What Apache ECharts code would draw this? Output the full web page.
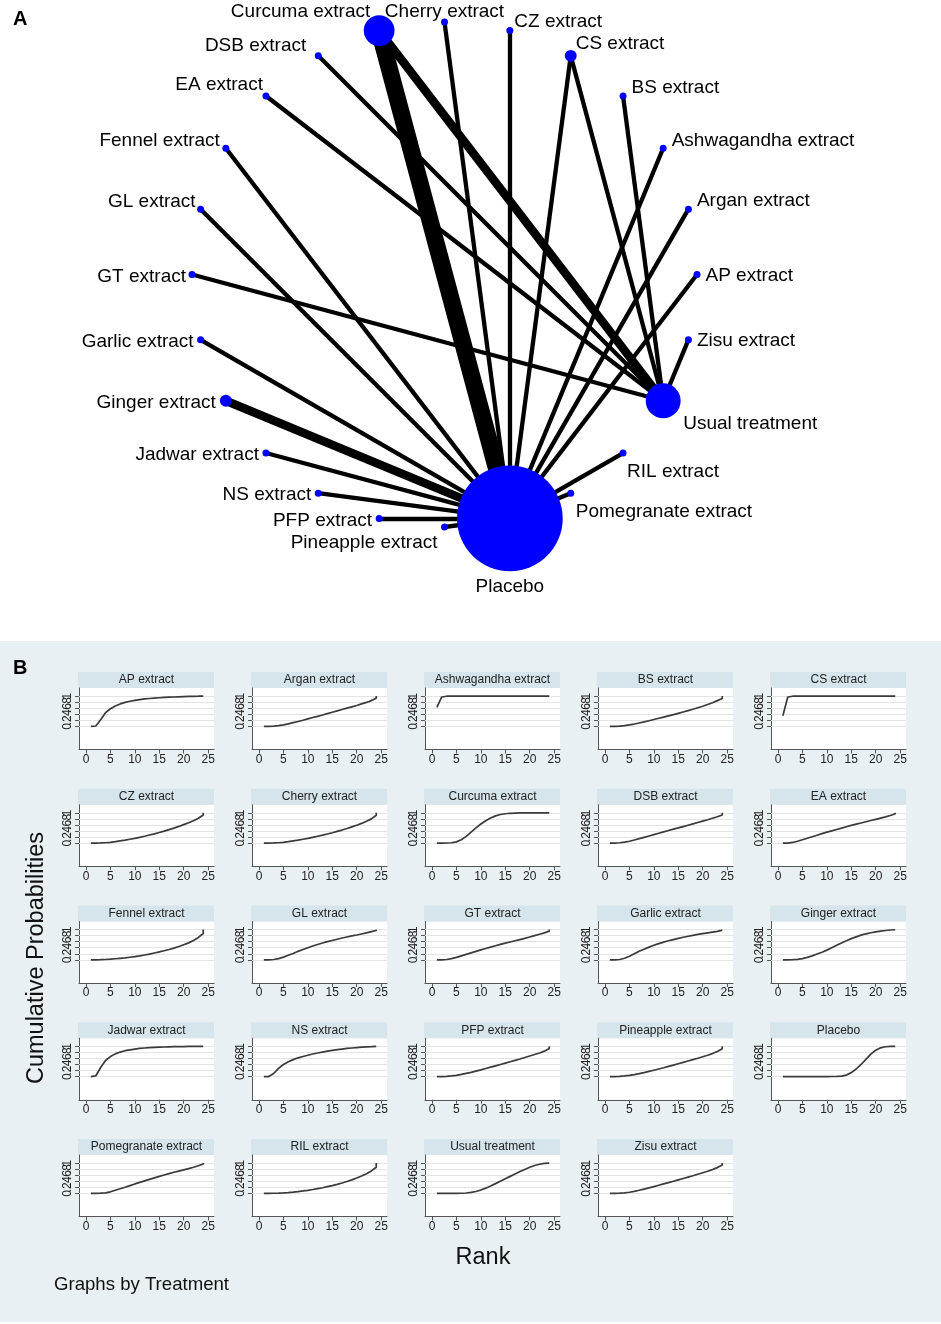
<!DOCTYPE html>
<html><head><meta charset="utf-8">
<script src="https://cdn.jsdelivr.net/npm/echarts@6/dist/echarts.min.js"></script>
<style>html,body{margin:0;padding:0;background:#fff}#c{width:941px;height:1324px}</style>
</head><body><div id="c"></div>
<script>
// ---------- DATA ----------
const treatments = ['AP extract','Argan extract','Ashwagandha extract','BS extract','CS extract','CZ extract',
  'Cherry extract','Curcuma extract','DSB extract','EA extract','Fennel extract','GL extract','GT extract',
  'Garlic extract','Ginger extract','Jadwar extract','NS extract','PFP extract','Pineapple extract','Placebo',
  'Pomegranate extract','RIL extract','Usual treatment','Zisu extract'];
const nodeWeight = [1,1,1,1,1.7,1,1,4.4,1,1,1,1,1,1,1.7,1,1,1,1,15.1,1,1,5,1];
// comparisons: [treatment A, treatment B, number of studies]
const edgeFrom = ['Curcuma extract','Curcuma extract','Cherry extract','CZ extract','CS extract','CS extract',
  'BS extract','Ashwagandha extract','Argan extract','AP extract','Zisu extract','RIL extract','Pomegranate extract',
  'DSB extract','EA extract','Fennel extract','GL extract','GT extract','Garlic extract','Ginger extract',
  'Jadwar extract','NS extract','PFP extract','Pineapple extract'];
const edgeTo = ['Placebo','Usual treatment','Placebo','Placebo','Placebo','Usual treatment',
  'Usual treatment','Placebo','Placebo','Placebo','Usual treatment','Placebo','Placebo',
  'Usual treatment','Usual treatment','Placebo','Placebo','Usual treatment','Placebo','Placebo',
  'Placebo','Placebo','Placebo','Placebo'];
const edgeStudies = [4,2,1,1,1,1,1,1,1,1,1,1,1,1,1,1,1,1,1,2,1,1,1,1];

// ranking plot
const ranks = [1,2,3,4,5,6,7,8,9,10,11,12,13,14,15,16,17,18,19,20,21,22,23,24,24];
const xTicks = [0,5,10,15,20,25];
const yTicks = [0,0.2,0.4,0.6,0.8,1];
const yLabelsA = [0,0.4,0.8];
const yLabelsB = [0.2,0.6,1];
const cpAP = [0,0.01,0.22,0.45,0.58,0.67,0.74,0.79,0.83,0.86,0.885,0.905,0.92,0.935,0.945,0.955,0.963,0.97,0.976,0.982,0.987,0.991,0.995,1,1];
const cpArgan = [0,0,0.005,0.02,0.045,0.08,0.12,0.16,0.2,0.245,0.29,0.33,0.375,0.42,0.465,0.51,0.555,0.6,0.645,0.69,0.74,0.79,0.85,0.93,1];
const cpAshwagandha = [0.63,0.97,0.995,1,1,1,1,1,1,1,1,1,1,1,1,1,1,1,1,1,1,1,1,1,1];
const cpBS = [0,0,0.005,0.02,0.045,0.075,0.11,0.145,0.185,0.225,0.265,0.305,0.345,0.385,0.43,0.475,0.52,0.565,0.615,0.665,0.72,0.78,0.85,0.92,1];
const cpCS = [0.35,0.97,0.995,1,1,1,1,1,1,1,1,1,1,1,1,1,1,1,1,1,1,1,1,1,1];
const cpCZ = [0,0,0.003,0.01,0.025,0.045,0.07,0.095,0.125,0.155,0.19,0.225,0.265,0.305,0.35,0.395,0.445,0.495,0.55,0.61,0.67,0.74,0.82,0.93,1];
const cpCherry = [0,0,0.003,0.01,0.025,0.045,0.07,0.095,0.125,0.155,0.19,0.225,0.26,0.3,0.34,0.385,0.43,0.48,0.535,0.59,0.65,0.72,0.8,0.92,1];
const cpCurcuma = [0,0,0.002,0.01,0.04,0.11,0.22,0.36,0.5,0.63,0.74,0.83,0.9,0.945,0.97,0.985,0.993,0.997,0.999,1,1,1,1,1,1];
const cpDSB = [0,0,0.01,0.03,0.06,0.1,0.145,0.19,0.235,0.28,0.325,0.37,0.415,0.46,0.5,0.545,0.59,0.635,0.68,0.725,0.77,0.82,0.87,0.93,1];
const cpEA = [0,0,0.02,0.06,0.11,0.16,0.21,0.26,0.31,0.36,0.405,0.45,0.495,0.54,0.585,0.625,0.665,0.705,0.745,0.785,0.825,0.865,0.91,0.97,1];
const cpFennel = [0,0,0.003,0.01,0.02,0.035,0.05,0.065,0.085,0.105,0.13,0.16,0.19,0.225,0.26,0.3,0.34,0.385,0.44,0.5,0.56,0.64,0.74,0.87,1];
const cpGL = [0,0,0.01,0.04,0.09,0.15,0.21,0.28,0.34,0.4,0.455,0.505,0.555,0.6,0.64,0.68,0.72,0.755,0.79,0.82,0.855,0.89,0.93,0.97,1];
const cpGT = [0,0,0.01,0.04,0.08,0.13,0.18,0.23,0.28,0.33,0.375,0.42,0.465,0.51,0.55,0.59,0.63,0.67,0.71,0.755,0.8,0.845,0.89,0.95,1];
const cpGarlic = [0,0,0.01,0.05,0.12,0.2,0.28,0.35,0.42,0.48,0.535,0.585,0.63,0.67,0.71,0.745,0.78,0.81,0.84,0.865,0.89,0.915,0.94,0.98,1];
const cpGinger = [0,0,0.003,0.015,0.04,0.08,0.13,0.19,0.25,0.32,0.4,0.48,0.555,0.63,0.7,0.76,0.815,0.86,0.895,0.925,0.95,0.97,0.985,0.995,1];
const cpJadwar = [0,0.02,0.3,0.53,0.66,0.75,0.81,0.855,0.885,0.91,0.93,0.945,0.955,0.965,0.972,0.978,0.983,0.987,0.99,0.993,0.995,0.997,0.999,1,1];
const cpNS = [0,0,0.1,0.27,0.4,0.49,0.56,0.62,0.665,0.705,0.745,0.78,0.81,0.84,0.865,0.89,0.91,0.93,0.945,0.96,0.972,0.982,0.99,1,1];
const cpPFP = [0,0,0.005,0.02,0.04,0.07,0.105,0.14,0.18,0.22,0.265,0.31,0.355,0.4,0.445,0.49,0.535,0.58,0.63,0.68,0.73,0.78,0.84,0.93,1];
const cpPineapple = [0,0,0.005,0.02,0.04,0.065,0.095,0.13,0.17,0.21,0.25,0.29,0.335,0.38,0.425,0.47,0.515,0.56,0.605,0.655,0.705,0.76,0.83,0.92,1];
const cpPlacebo = [0,0,0,0,0,0,0,0,0,0,0.002,0.005,0.015,0.05,0.13,0.25,0.4,0.57,0.74,0.87,0.95,0.985,0.997,1,1];
const cpPomegranate = [0,0,0.003,0.015,0.05,0.1,0.15,0.2,0.255,0.31,0.36,0.41,0.46,0.51,0.56,0.605,0.65,0.695,0.735,0.775,0.815,0.86,0.91,0.97,1];
const cpRIL = [0,0,0.002,0.006,0.013,0.025,0.04,0.058,0.078,0.1,0.125,0.155,0.185,0.22,0.255,0.295,0.34,0.39,0.445,0.505,0.57,0.65,0.74,0.86,1];
const cpUsual = [0,0,0,0,0,0.002,0.01,0.03,0.06,0.11,0.17,0.24,0.32,0.4,0.48,0.56,0.64,0.72,0.79,0.86,0.92,0.96,0.99,1,1];
const cpZisu = [0,0,0.005,0.015,0.035,0.065,0.1,0.14,0.18,0.22,0.265,0.31,0.355,0.4,0.445,0.49,0.535,0.58,0.63,0.68,0.73,0.785,0.85,0.94,1];
const rankCurves = [cpAP,cpArgan,cpAshwagandha,cpBS,cpCS,cpCZ,cpCherry,cpCurcuma,cpDSB,cpEA,cpFennel,cpGL,cpGT,
  cpGarlic,cpGinger,cpJadwar,cpNS,cpPFP,cpPineapple,cpPlacebo,cpPomegranate,cpRIL,cpUsual,cpZisu];

// ---------- STYLE ----------
const FONT = '"Liberation Sans", Arial, Helvetica, sans-serif';
const labelPlace = {
 'AP extract':['right',[0,1]], 'Argan extract':['right',[0,-8]], 'Ashwagandha extract':['right',[0,-7]],
 'BS extract':['right',[0,-8]], 'CS extract':['right',[-6,-12]], 'CZ extract':['right',[-4,-9]],
 'Cherry extract':['top',[0,8]], 'Curcuma extract':['left',[11.5,-19]], 'DSB extract':['left',[-3.5,-10]],
 'EA extract':['left',[5.5,-11]], 'Fennel extract':['left',[2.5,-7]], 'GL extract':['left',[3.5,-7]],
 'GT extract':['left',[2.5,2]], 'Garlic extract':['left',[1.5,2]], 'Ginger extract':['left',[1,2]],
 'Jadwar extract':['left',[1.5,2]], 'NS extract':['left',[1.5,2]], 'PFP extract':['left',[1.5,2]],
 'Pineapple extract':['left',[1.5,16]], 'Placebo':['bottom',[0,1]], 'Pomegranate extract':['right',[-3.5,19]],
 'RIL extract':['right',[-4.5,19]], 'Usual treatment':['right',[-2.5,23]], 'Zisu extract':['right',[0,1]]
};
const NODE_PX = 7;      // px per weight unit
const EDGE_PX = 4.3;    // px per study

const nodes = treatments.map((t, i) => ({
  name: t,
  value: [1, t],
  symbolSize: nodeWeight[i] * NODE_PX,
  label: {show: true, position: labelPlace[t][0], offset: labelPlace[t][1]}
}));
const links = edgeFrom.map((s, i) => ({
  source: s, target: edgeTo[i],
  lineStyle: {width: edgeStudies[i] * EDGE_PX}
}));

const fmtProb = v => (v === 0 ? '0' : v === 1 ? '1' : String(+(+v).toFixed(1)).replace(/^0/, ''));

// ranking panels
const PW = 135, PH = 61.5, PX0 = 79, PY0 = 688, DX = 173, DY = 116.75;
const grids = [], xAxes = [], yAxes = [], series = [], graphics = [];
graphics.push({type:'rect', z:-100, shape:{x:0,y:641,width:941,height:681}, style:{fill:'#e9f0f3'}});
treatments.forEach((t, i) => {
  const col = i % 5, row = Math.floor(i / 5);
  const left = PX0 + col * DX, top = PY0 + row * DY;
  grids.push({left, top, width: PW, height: PH, show: true, backgroundColor: '#ffffff', borderWidth: 0,
    containLabel: false, outerBoundsMode: 'none'});
  xAxes.push({type:'value', gridIndex:i, min:-1.43, max:26.2,
    axisLine:{show:true, onZero:false, lineStyle:{color:'#555', width:1}},
    axisTick:{show:true, customValues:xTicks, length:4, lineStyle:{color:'#555'}},
    axisLabel:{customValues:xTicks, fontSize:12, color:'#222', margin:4, fontFamily:FONT,
      showMinLabel:true, showMaxLabel:true, hideOverlap:false},
    splitLine:{show:false}});
  // primary y axis: line, ticks and labels 0 .4 .8
  yAxes.push({type:'value', gridIndex:i, position:'left', min:-0.767, max:1.267,
    axisLine:{show:true, onZero:false, lineStyle:{color:'#555', width:1}},
    axisTick:{show:true, customValues:yTicks, length:4, lineStyle:{color:'#555'}},
    axisLabel:{customValues:yLabelsA, rotate:90, fontSize:12, color:'#222', margin:5, fontFamily:FONT,
      showMinLabel:true, showMaxLabel:true, hideOverlap:false, formatter: fmtProb},
    splitLine:{show:false}});
  // companion y axis (same scale) carrying labels .2 .6 1
  yAxes.push({type:'value', gridIndex:i, position:'left', offset:0, min:-0.767, max:1.267,
    axisLine:{show:false, onZero:false}, axisTick:{show:false},
    axisLabel:{customValues:yLabelsB, rotate:90, fontSize:12, color:'#222', margin:5, fontFamily:FONT,
      showMinLabel:true, showMaxLabel:true, hideOverlap:false, formatter: fmtProb},
    splitLine:{show:false}});
  series.push({type:'line', xAxisIndex:i, yAxisIndex:2*i, data:[], z:1, silent:true,
    markLine:{silent:true, z:1, symbol:['none','none'], label:{show:false},
      lineStyle:{color:'#e4e4e4', width:1, type:'solid'}, emphasis:{disabled:true},
      data: yTicks.map(v => ({yAxis: v}))}});
  series.push({type:'line', xAxisIndex:i, yAxisIndex:2*i, z:6, silent:true, showSymbol:false, symbol:'none',
    lineStyle:{color:'#3a3a3a', width:1.7}, emphasis:{disabled:true},
    data: ranks.map((r, k) => [r, rankCurves[i][k]])});
  graphics.push({type:'rect', shape:{x:left-1, y:top-16, width:PW+1, height:16}, style:{fill:'#d6e4eb'}});
  graphics.push({type:'text', x:left + PW/2, y:top-8,
    style:{text:t, fill:'#222', font:'12px ' + FONT, textAlign:'center', textVerticalAlign:'middle'}});
});
graphics.push({type:'text', x:13, y:19, style:{text:'A', fill:'#000', font:'bold 20px ' + FONT, textVerticalAlign:'middle'}});
graphics.push({type:'text', x:13, y:668, style:{text:'B', fill:'#000', font:'bold 20px ' + FONT, textVerticalAlign:'middle'}});
graphics.push({type:'text', x:37, y:958, rotation:Math.PI/2,
  style:{text:'Cumulative Probabilities', fill:'#111', font:'23.5px ' + FONT, textAlign:'center', textVerticalAlign:'middle'}});
graphics.push({type:'text', x:483, y:1258,
  style:{text:'Rank', fill:'#111', font:'23.5px ' + FONT, textAlign:'center', textVerticalAlign:'middle'}});
graphics.push({type:'text', x:54, y:1285,
  style:{text:'Graphs by Treatment', fill:'#111', font:'18.6px ' + FONT, textAlign:'left', textVerticalAlign:'middle'}});

series.push({
  type:'graph', coordinateSystem:'polar', polarIndex:0, layout:'none', silent:true, roam:false,
  z:5, emphasis:{disabled:true},
  itemStyle:{color:'#0000ff'},
  lineStyle:{color:'#000', opacity:1, curveness:0},
  edgeSymbol:['none','none'],
  label:{show:true, color:'#000', fontSize:19, fontFamily:FONT},
  data: nodes, links: links
});

const chart = echarts.init(document.getElementById('c'), null, {renderer:'canvas'});
chart.setOption({
  animation:false,
  backgroundColor:'#ffffff',
  polar:{center:[444.5, 274.5], radius:252.5},
  angleAxis:{type:'category', data:treatments, startAngle:-7.5, clockwise:false, show:false,
    axisLine:{show:false}, axisTick:{show:false}, axisLabel:{show:false}, splitLine:{show:false}},
  radiusAxis:{type:'value', min:0, max:1, show:false,
    axisLine:{show:false}, axisTick:{show:false}, axisLabel:{show:false}, splitLine:{show:false}},
  grid: grids, xAxis: xAxes, yAxis: yAxes, series: series, graphic: graphics
});
</script></body></html>
